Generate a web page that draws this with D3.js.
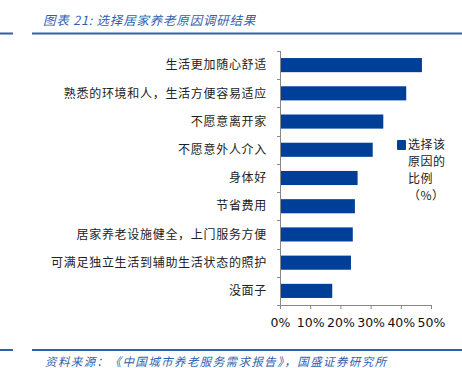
<!DOCTYPE html>
<html>
<head>
<meta charset="utf-8">
<script src="https://cdn.jsdelivr.net/npm/d3@7"></script>
<style>
  body { margin: 0; background: #fff; }
  svg { display: block; }
</style>
</head>
<body>
<div id="chart"></div>
<script>
const categories = [
  "生活更加随心舒适",
  "熟悉的环境和人，生活方便容易适应",
  "不愿意离开家",
  "不愿意外人介入",
  "身体好",
  "节省费用",
  "居家养老设施健全，上门服务方便",
  "可满足独立生活到辅助生活状态的照护",
  "没面子"
];
const values = [47.0, 41.8, 34.2, 30.7, 25.7, 24.8, 24.1, 23.5, 17.3];
const xTicks = [0, 10, 20, 30, 40, 50];
const legendLines = ["选择该", "原因的", "比例", "（%）"];
const titleText = "图表 21:  选择居家养老原因调研结果";
const sourceText = "资料来源：《中国城市养老服务需求报告》，国盛证券研究所";

const W = 462, H = 368;
const blue = "#2f5fae";
const barColor = "#003f98";
const cjk = "'Noto Sans CJK SC', sans-serif";

const svg = d3.select("#chart").append("svg")
  .attr("width", W)
  .attr("height", H);

// title + rules
svg.append("text")
  .attr("x", 43).attr("y", 25)
  .text(titleText)
  .style("font-family", cjk)
  .style("font-size", "12.5px")
  .style("letter-spacing", "0.8px")
  .style("font-style", "italic")
  .style("fill", blue);

[33.5, 350].forEach((yy) => {
  svg.append("line").attr("x1", 0).attr("x2", 13).attr("y1", yy).attr("y2", yy)
    .attr("stroke", blue).attr("stroke-width", 2);
  svg.append("line").attr("x1", 32).attr("x2", W).attr("y1", yy).attr("y2", yy)
    .attr("stroke", blue).attr("stroke-width", 2);
});

svg.append("text")
  .attr("x", 45).attr("y", 366)
  .text(sourceText)
  .style("font-family", cjk)
  .style("font-size", "11.5px")
  .style("letter-spacing", "1.4px")
  .style("font-style", "italic")
  .style("fill", blue);

// plot area
const plotL = 280, plotR = 431, plotT = 51, plotB = 305;

const x = d3.scaleLinear().domain([0, 50]).range([plotL, plotR]);
const y = d3.scaleBand().domain(categories).range([plotT, plotB]).paddingInner(0.5).paddingOuter(0.25);

svg.selectAll("rect.bar")
  .data(values)
  .enter()
  .append("rect")
  .attr("class", "bar")
  .attr("x", x(0))
  .attr("y", (d, i) => y(categories[i]))
  .attr("width", (d) => x(d) - x(0))
  .attr("height", y.bandwidth())
  .attr("fill", barColor);

// y axis, ticks sit between categories
const yAxis = svg.append("g");
yAxis.append("line")
  .attr("x1", plotL + 0.5).attr("x2", plotL + 0.5)
  .attr("y1", plotT).attr("y2", plotB)
  .attr("stroke", "#888");
const step = (plotB - plotT) / categories.length;
d3.range(categories.length + 1).forEach((i) => {
  yAxis.append("line")
    .attr("x1", plotL - 3).attr("x2", plotL + 0.5)
    .attr("y1", Math.round(plotT + i * step) + 0.5)
    .attr("y2", Math.round(plotT + i * step) + 0.5)
    .attr("stroke", "#888");
});

svg.selectAll("text.cat")
  .data(categories)
  .enter()
  .append("text")
  .attr("class", "cat")
  .attr("x", 267)
  .attr("y", (d) => y(d) + y.bandwidth() / 2)
  .attr("dy", "0.35em")
  .attr("text-anchor", "end")
  .text((d) => d)
  .style("font-family", cjk)
  .style("font-size", "12px")
  .style("letter-spacing", "0.7px")
  .style("fill", "#222");

// x axis
const xAxis = svg.append("g")
  .attr("transform", `translate(0,${plotB})`)
  .call(d3.axisBottom(x).tickValues(xTicks).tickSize(4).tickFormat((d) => d + "%"));
xAxis.select(".domain").attr("stroke", "#888");
xAxis.selectAll(".tick line").attr("stroke", "#888");
xAxis.selectAll(".tick text")
  .attr("y", 13)
  .style("font-family", "'DejaVu Sans', Verdana, sans-serif")
  .style("font-size", "12.5px")
  .style("fill", "#111");

// legend
svg.append("rect")
  .attr("x", 397).attr("y", 140)
  .attr("width", 9).attr("height", 10)
  .attr("rx", 1)
  .attr("fill", barColor);

svg.selectAll("text.leg")
  .data(legendLines)
  .enter()
  .append("text")
  .attr("class", "leg")
  .attr("x", 408)
  .attr("y", (d, i) => 145 + i * 17)
  .attr("dy", "0.35em")
  .text((d) => d)
  .style("font-family", cjk)
  .style("font-size", "12px")
  .style("letter-spacing", "0.5px")
  .style("fill", "#222");
</script>
</body>
</html>
